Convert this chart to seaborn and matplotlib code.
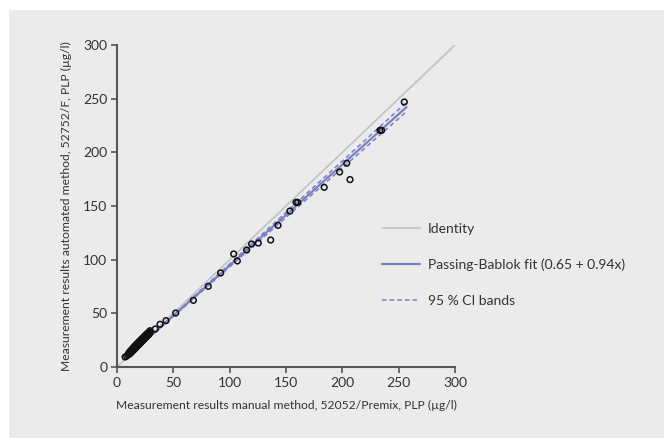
import matplotlib
matplotlib.use("Agg")
import matplotlib.pyplot as plt
import matplotlib.patches as mpatches
from matplotlib.lines import Line2D
import pandas as pd
import seaborn as sns

# measured points (manual method x, automated method y)
cluster_x = [7.2, 8.6, 9.8, 10.5, 11.1, 11.6, 12.0, 12.4, 12.7, 13.1, 13.4, 13.8, 14.1, 14.5,
             14.8, 15.2, 15.5, 15.9, 16.2, 16.6, 16.9, 17.3, 17.6, 18.0, 18.3, 18.7, 19.0, 19.4,
             19.7, 20.1, 20.4, 20.8, 21.1, 21.5, 21.8, 22.2, 22.5, 22.9, 23.2, 23.6, 23.9, 24.3,
             24.6, 25.0, 25.3, 25.7, 26.0, 26.4, 26.8, 27.2, 27.6, 28.0, 28.4, 28.8, 29.3, 29.6,
             12.2, 13.0, 14.3, 15.0, 15.6, 16.4, 16.7, 17.4, 17.8, 18.5, 18.9, 19.5, 20.0, 20.6,
             21.0, 21.6, 22.0, 22.7, 23.0, 23.5, 24.0, 24.8, 25.0, 25.6, 26.2, 26.9, 27.5, 28.2,
             11.0, 13.6, 15.8, 18.1, 20.3, 22.4, 24.5]
cluster_y = [9.3, 10.2, 11.4, 13.0, 12.0, 14.2, 13.1, 15.0, 13.8, 16.0, 14.5, 17.1, 15.2, 17.8,
             16.0, 18.6, 16.7, 19.4, 17.5, 20.1, 18.2, 20.8, 19.0, 21.6, 19.8, 22.4, 20.5, 23.1,
             21.3, 23.9, 22.0, 24.6, 22.8, 25.4, 23.6, 26.1, 24.3, 26.9, 25.1, 27.6, 25.8, 28.4,
             26.6, 29.1, 27.4, 29.8, 28.2, 30.6, 28.9, 31.3, 29.7, 32.0, 30.5, 32.6, 33.8, 32.4,
             15.3, 14.6, 16.9, 17.8, 17.2, 19.9, 18.4, 21.0, 19.7, 22.1, 21.8, 22.9, 22.4, 24.0,
             23.9, 24.8, 24.6, 26.0, 25.9, 26.6, 27.2, 28.0, 27.6, 28.9, 29.5, 29.9, 30.9, 31.4,
             13.7, 15.9, 18.2, 20.4, 22.8, 25.0, 27.1]
single_x = [34.0, 38.2, 43.5, 52.1, 67.8, 81.0, 92.0, 103.6, 106.8, 115.1, 119.5, 125.4,
            136.4, 142.9, 153.5, 158.9, 160.4, 183.9, 197.6, 206.8, 203.9, 233.4, 234.9, 255.0]
single_y = [35.4, 39.8, 43.2, 50.3, 62.1, 75.2, 87.6, 105.3, 98.8, 109.0, 114.6, 115.5,
            118.3, 132.0, 145.3, 153.4, 153.4, 167.4, 181.7, 174.6, 189.8, 220.5, 220.5, 246.9]

identity_x = [0, 300]
identity_y = [0, 300]
fit_x = [8, 257]
fit_y = [8.2, 242.2]
ci_upper_y = [7.9, 246.6]
ci_lower_y = [8.5, 238.0]

legend_labels = ["Identity", "Passing-Bablok fit (0.65 + 0.94x)", "95 % CI bands"]
xlabel = "Measurement results manual method, 52052/Premix, PLP (\u00b5g/l)"
ylabel = "Measurement results automated method, 52752/F, PLP (\u00b5g/l)"

bg = "#ebebeb"
txt = "#333333"
c_ident = "#c2c2c2"
c_fit = "#7a7fc4"

sns.set_theme(style="white")
plt.rcParams["font.family"] = ["Lato", "DejaVu Sans"]

points = pd.DataFrame({"x": cluster_x + single_x, "y": cluster_y + single_y})

fig = plt.figure(figsize=(6.64, 4.38), dpi=100)
fig.patch.set_facecolor("white")
fig.patches.append(mpatches.Rectangle((9 / 664, 0), 1, 1 - 10 / 438, transform=fig.transFigure,
                                      facecolor=bg, edgecolor="none", zorder=-10))
ax = fig.add_axes([117 / 664, 1 - 367 / 438, 338 / 664, 322 / 438])
ax.set_facecolor(bg)

sns.lineplot(x=identity_x, y=identity_y, ax=ax, color=c_ident, linewidth=1.2, zorder=1)
sns.lineplot(x=fit_x, y=ci_upper_y, ax=ax, color=c_fit, linewidth=1.1, linestyle=(0, (3, 2)), zorder=2)
sns.lineplot(x=fit_x, y=ci_lower_y, ax=ax, color=c_fit, linewidth=1.1, linestyle=(0, (3, 2)), zorder=2)
sns.lineplot(x=fit_x, y=fit_y, ax=ax, color=c_fit, linewidth=1.6, zorder=3)
sns.scatterplot(data=points, x="x", y="y", ax=ax, s=17, facecolor="none", edgecolor="#111111",
                linewidth=1.1, zorder=4)

ax.set_xlim(0, 300)
ax.set_ylim(0, 300)
ax.set_xticks([0, 50, 100, 150, 200, 250, 300])
ax.set_yticks([0, 50, 100, 150, 200, 250, 300])
for side in ["top", "right"]:
    ax.spines[side].set_visible(False)
for side in ["left", "bottom"]:
    ax.spines[side].set_color("#555555")
    ax.spines[side].set_linewidth(1.5)
ax.tick_params(axis="both", direction="out", length=4, width=1.2, color="#555555",
               labelsize=10, labelcolor=txt, pad=3, bottom=True, left=True)
ax.set_xlabel(xlabel, fontsize=8.7, color=txt, labelpad=8)
ax.set_ylabel(ylabel, fontsize=8.7, color=txt, labelpad=8)

handles = [Line2D([], [], color=c_ident, linewidth=1.2),
           Line2D([], [], color=c_fit, linewidth=1.6),
           Line2D([], [], color=c_fit, linewidth=1.1, linestyle=(0, (3, 2)))]
ax.legend(handles, legend_labels, loc="center left", bbox_to_anchor=(369 / 664, 1 - 265 / 438),
          bbox_transform=fig.transFigure, frameon=False, fontsize=10, labelcolor=txt,
          handlelength=2.8, handletextpad=0.55, labelspacing=1.7)

fig.savefig("out.png", dpi=100, facecolor=fig.get_facecolor())
